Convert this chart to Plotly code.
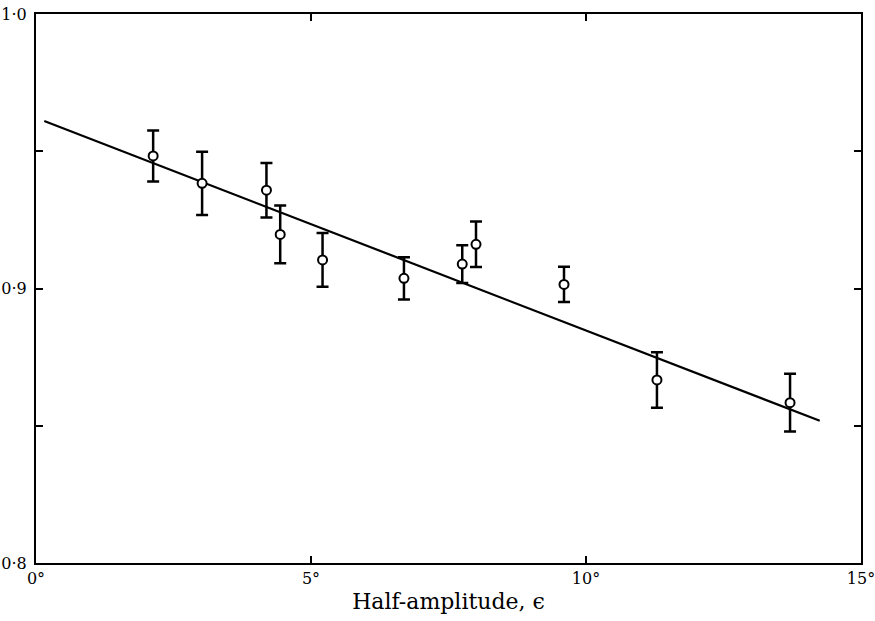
import plotly.graph_objects as go

# Data
amplitude = [2.13, 3.02, 4.19, 4.44, 5.21, 6.69, 7.75, 8.00, 9.60, 11.29, 13.71]
ratio = [0.9483, 0.9383, 0.9358, 0.9197, 0.9104, 0.9037, 0.9089, 0.9161, 0.9015, 0.8667, 0.8584]
err = [0.0093, 0.0115, 0.0099, 0.0105, 0.0098, 0.0077, 0.0069, 0.0083, 0.0064, 0.0101, 0.0105]

fit_x = [0.15, 14.25]
fit_y = [0.9610, 0.8518]

x_tickvals = [0, 5, 10, 15]
x_ticktext = ["0°", "5°", "10°", "15°"]
y_tickvals = [0.8, 0.85, 0.9, 0.95, 1.0]
y_ticktext = ["0·8", "", "0·9", "", "1·0"]

FONT = "DejaVu Serif"

fig = go.Figure()
fig.add_trace(go.Scatter(
    x=fit_x, y=fit_y, mode="lines",
    line=dict(color="black", width=2.2),
    showlegend=False, hoverinfo="skip",
))
fig.add_trace(go.Scatter(
    x=amplitude, y=ratio, mode="markers",
    marker=dict(symbol="circle", size=9, color="white",
                line=dict(color="black", width=2)),
    error_y=dict(type="data", array=err, visible=True,
                 color="black", thickness=2.5, width=6),
    showlegend=False,
))

fig.update_layout(
    width=875, height=621,
    margin=dict(l=36, r=14, t=14, b=58),
    paper_bgcolor="white", plot_bgcolor="white",
    font=dict(family=FONT, color="black", size=16),
)
fig.update_xaxes(
    range=[0, 15], tickvals=x_tickvals, ticktext=x_ticktext,
    ticks="inside", ticklen=7, tickwidth=2, tickcolor="black",
    showline=True, linewidth=2, linecolor="black", mirror="ticks",
    showgrid=False, zeroline=False, automargin=False,
    ticklabeloverflow="allow",
    tickfont=dict(family=FONT, size=16),
    title=dict(text="Half-amplitude, ϵ", font=dict(family=FONT, size=22), standoff=6),
)
fig.update_yaxes(
    range=[0.8, 1.0], tickvals=y_tickvals, ticktext=y_ticktext,
    ticks="inside", ticklen=7, tickwidth=2, tickcolor="black",
    showline=True, linewidth=2, linecolor="black", mirror="ticks",
    showgrid=False, zeroline=False, automargin=False,
    ticklabeloverflow="allow", ticklabelstandoff=4,
    tickfont=dict(family=FONT, size=16),
)

fig.write_html("out.html", config={"displayModeBar": False},
               post_script="document.body.style.margin='0';")
